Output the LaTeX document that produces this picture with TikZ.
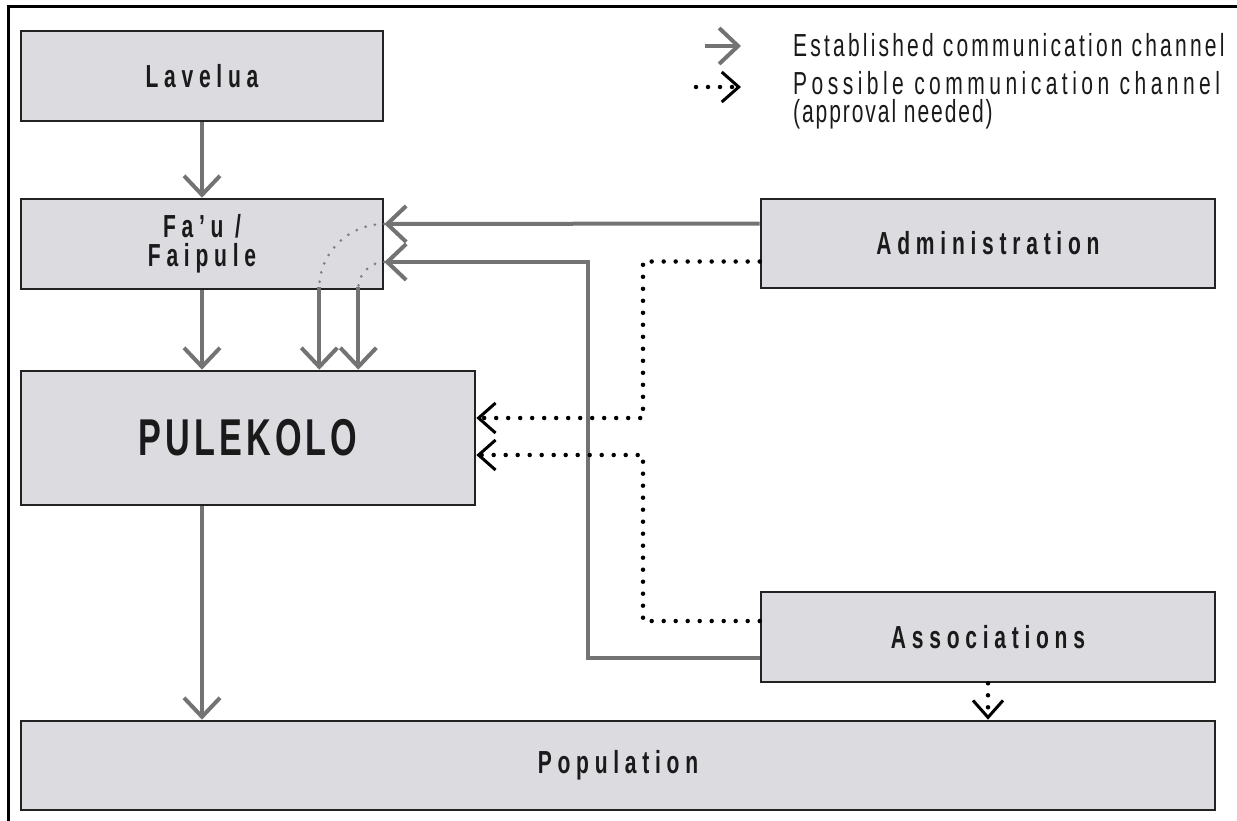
\documentclass[tikz,border=0pt]{standalone}
\usepackage{fontspec}
\usetikzlibrary{arrows.meta,calc}
% condensed, letter-spaced sans for box labels and key
\newfontfamily\boxfont{Liberation Sans}[FakeStretch=0.66,LetterSpace=18]
\newfontfamily\keyfont{Liberation Sans}[FakeStretch=0.66,LetterSpace=10]
\newcommand\tightlines{\lineskiplimit-30pt\relax}
\definecolor{boxfill}{RGB}{220,219,224}
\definecolor{boxline}{RGB}{34,34,34}
\definecolor{chan}{RGB}{115,115,115}
\definecolor{arcdot}{RGB}{128,128,128}
\definecolor{ink}{RGB}{26,26,26}

\begin{document}
\begin{tikzpicture}[x=1bp,y=-1bp,
  box/.style={draw=boxline, fill=boxfill, line width=2.6bp, inner sep=0pt,
    text=ink, align=center, font=\boxfont\bfseries\fontsize{32}{30}\selectfont},
  chanline/.style={draw=chan, line width=4bp},
  chanarrow/.style={chanline, -{Straight Barb[length=19bp,width=36bp]}},
  maybeline/.style={draw=black, line width=4.5bp, line cap=round,
    dash pattern=on 0bp off 12bp},
  maybearrow/.style={maybeline,
    -{Straight Barb[length=17bp,width=30bp,line width=3bp]}},
  arcdots/.style={draw=arcdot, line width=3bp, line cap=round,
    dash pattern=on 0bp off 9.5bp},
  keytext/.style={anchor=base west, inner sep=0pt, text=ink,
    font=\keyfont\fontsize{32}{32}\selectfont}
]
\useasboundingbox (0,0) rectangle (1237,821);

% page frame (top and left rules)
\draw[line width=3bp, black] (8.5,821) -- (8.5,7) -- (1237,7);

% boxes
\node[box, minimum width=362bp, minimum height=90bp] (lav) at (202,76) {Lavelua};
\node[box, minimum width=362bp, minimum height=90bp,
  font=\boxfont\bfseries\fontsize{32}{29}\selectfont\tightlines]
  (fau) at (202,244) {Fa’u /\\Faipule};
\node[box, minimum width=454bp, minimum height=134bp,
  font=\boxfont\bfseries\fontsize{52}{52}\selectfont\addfontfeatures{LetterSpace=8}]
  (pul) at (248,438) {PULEKOLO};
\node[box, minimum width=454bp, minimum height=89bp] (adm) at (988,243.5) {Administration};
\node[box, minimum width=454bp, minimum height=90bp] (aso) at (988,637) {Associations};
\node[box, minimum width=1194bp, minimum height=89bp] (pop) at (618,765.5) {Population};

% key
\node[keytext] (k1) at (793,57) {Established communication channel};
\node[keytext] (k2) at (793,95)
  {\addfontfeatures{LetterSpace=14}Possible communication channel};
\node[keytext] (k3) at (793,123)
  {\addfontfeatures{LetterSpace=6}(approval needed)};
\coordinate (k1a) at ($(k1.base west)+(-88,-11)$);
\coordinate (k1b) at ($(k1.base west)+(-52,-11)$);
\coordinate (k2a) at ($(k2.base west)+(-97,-8)$);
\coordinate (k2b) at ($(k2.base west)+(-52,-8)$);

% attachment points
\coordinate (fauA) at ($(fau.east)+(0,-20)$);
\coordinate (fauB) at ($(fau.east)+(0,18)$);
\coordinate (admA) at ($(adm.west)+(0,-20)$);
\coordinate (admB) at ($(adm.west)+(0,18)$);
\coordinate (asoA) at ($(aso.west)+(0,21)$);
\coordinate (asoB) at ($(aso.west)+(0,-16)$);
\coordinate (pulA) at ($(pul.east)+(0,-20)$);
\coordinate (pulB) at ($(pul.east)+(0,17)$);
\coordinate (dropA) at ($(fau.south east)+(-65,-3)$);
\coordinate (dropB) at ($(fau.south east)+(-26,-3)$);
\coordinate (sbend) at (588,0);
\coordinate (dbend) at (643,0);

% established channels
\draw[chanarrow] (lav.south) -- (fau.north);
\draw[chanarrow] (fau.south) -- (fau.south |- pul.north);
\draw[chanarrow] (pul.south -| lav.south) -- (pop.north -| lav.south);
\draw[chanarrow] (admA) -- (fauA);
\draw[chanarrow] (asoA) -- (asoA -| sbend) -- (fauB -| sbend) -- (fauB);
\draw[chanarrow] (dropA) -- (dropA |- pul.north);
\draw[chanarrow] (dropB) -- (dropB |- pul.north);
\draw[chanarrow] (k1a) -- (k1b);

% relay through Fa'u / Faipule
\draw[arcdots] (fauA) .. controls +(-36,0) and +(0,-34) .. (dropA);
\draw[arcdots] (fauB) .. controls +(-14,0) and +(0,-13) .. (dropB);

% possible channels
\draw[maybearrow] (admB) -- (admB -| dbend) -- (pulA -| dbend) -- (pulA);
\draw[maybearrow] (asoB) -- (asoB -| dbend) -- (pulB -| dbend) -- (pulB);
\draw[maybearrow] (aso.south) -- (aso.south |- pop.north);
\draw[maybearrow] (k2a) -- (k2b);
\end{tikzpicture}
\end{document}
